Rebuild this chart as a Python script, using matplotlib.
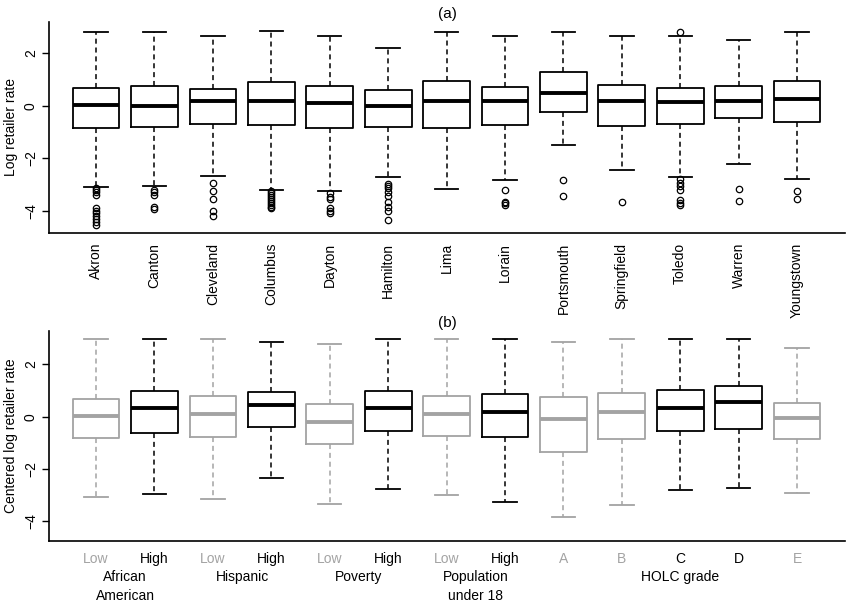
import matplotlib
matplotlib.use("Agg")
import matplotlib.pyplot as plt
from matplotlib.transforms import blended_transform_factory

plt.rcParams['font.family'] = ['Liberation Sans', 'DejaVu Sans']

# ---------------- Panel (a) data ----------------
cities = ["Akron", "Canton", "Cleveland", "Columbus", "Dayton", "Hamilton", "Lima",
          "Lorain", "Portsmouth", "Springfield", "Toledo", "Warren", "Youngstown"]
a_whislo = [-3.10, -3.05, -2.67, -3.20, -3.24, -2.72, -3.17, -2.82, -1.48, -2.44, -2.70, -2.20, -2.79]
a_q1 = [-0.83, -0.81, -0.68, -0.74, -0.86, -0.81, -0.84, -0.74, -0.24, -0.76, -0.70, -0.47, -0.62]
a_med = [0.05, 0.00, 0.20, 0.20, 0.12, 0.00, 0.18, 0.18, 0.51, 0.20, 0.15, 0.20, 0.27]
a_q3 = [0.69, 0.74, 0.66, 0.92, 0.74, 0.61, 0.94, 0.71, 1.30, 0.81, 0.69, 0.74, 0.93]
a_whishi = [2.81, 2.81, 2.65, 2.87, 2.65, 2.19, 2.81, 2.65, 2.81, 2.65, 2.65, 2.53, 2.81]
a_fliers = [
    [-3.15, -3.22, -3.30, -3.40, -3.90, -4.00, -4.10, -4.20, -4.30, -4.42, -4.55],
    [-3.20, -3.28, -3.40, -3.85, -3.95],
    [-2.95, -3.23, -3.56, -4.00, -4.20],
    [-3.25, -3.32, -3.40, -3.48, -3.55, -3.62, -3.70, -3.78, -3.85, -3.90],
    [-3.33, -3.46, -3.56, -3.91, -4.02, -4.10],
    [-2.99, -3.07, -3.14, -3.27, -3.43, -3.65, -3.87, -4.00, -4.37],
    [],
    [-3.22, -3.65, -3.72, -3.77],
    [-2.84, -3.43],
    [-3.66],
    [2.81, -2.79, -2.95, -3.05, -3.20, -3.60, -3.70, -3.79],
    [-3.18, -3.64],
    [-3.24, -3.55],
]

# ---------------- Panel (b) data ----------------
b_labels = ["Low", "High", "Low", "High", "Low", "High", "Low", "High", "A", "B", "C", "D", "E"]
b_highlight = [False, True, False, True, False, True, False, True, False, False, True, True, False]
b_whislo = [-3.09, -2.97, -3.17, -2.35, -3.35, -2.77, -3.00, -3.27, -3.84, -3.37, -2.80, -2.72, -2.91]
b_q1 = [-0.80, -0.61, -0.79, -0.38, -1.05, -0.54, -0.74, -0.79, -1.35, -0.84, -0.54, -0.46, -0.87]
b_med = [0.03, 0.32, 0.12, 0.44, -0.19, 0.35, 0.12, 0.17, -0.10, 0.18, 0.35, 0.55, -0.06]
b_q3 = [0.69, 0.98, 0.79, 0.96, 0.49, 0.98, 0.78, 0.86, 0.74, 0.90, 1.02, 1.19, 0.52]
b_whishi = [2.99, 2.99, 2.99, 2.84, 2.79, 2.99, 2.99, 2.99, 2.84, 2.99, 2.99, 2.99, 2.62]
groups = ["African\nAmerican", "Hispanic", "Poverty", "Population\nunder 18", "HOLC grade"]
group_pos = [1.5, 3.5, 5.5, 7.5, 11.0]

GRAY = "#a3a3a3"
W, H = 849, 604
fig = plt.figure(figsize=(W / 100, H / 100), dpi=100)

def frac(l, t, r, b):
    return [l / W, 1 - b / H, (r - l) / W, (b - t) / H]

ax1 = fig.add_axes(frac(49, 22, 845, 233))
ax2 = fig.add_axes(frac(49, 331, 845, 540.7))


def draw(ax, stats, colors):
    for i, (st, c) in enumerate(zip(stats, colors)):
        ax.bxp([st], positions=[i + 1], widths=0.8, capwidths=0.4, showfliers=True,
               boxprops=dict(color=c, linewidth=1.3),
               medianprops=dict(color=c, linewidth=2.8, solid_capstyle='butt'),
               whiskerprops=dict(color=c, linewidth=1.1, linestyle=(0, (3.3, 2.5))),
               capprops=dict(color=c, linewidth=1.3),
               flierprops=dict(marker='o', markerfacecolor='none', markeredgecolor=c,
                               markersize=4.6, markeredgewidth=0.9, linestyle='none'))


def style(ax, ylabel, ylim):
    ax.set_xlim(0.195, 13.82)
    ax.set_ylim(*ylim)
    ax.spines['top'].set_visible(False)
    ax.spines['right'].set_visible(False)
    ax.spines['left'].set_linewidth(1.2)
    ax.spines['bottom'].set_linewidth(1.2)
    ax.set_yticks([-4, -2, 0, 2])
    ax.set_yticklabels(["\u22124", "\u22122", "0", "2"], rotation=90, va='center')
    ax.tick_params(axis='y', length=5, width=1, labelsize=10, pad=3)
    ax.tick_params(axis='x', length=0, labelsize=10)
    ax.set_ylabel(ylabel, fontsize=10, labelpad=4)


stats_a = [dict(med=m, q1=q1, q3=q3, whislo=lo, whishi=hi, fliers=f)
           for m, q1, q3, lo, hi, f in zip(a_med, a_q1, a_q3, a_whislo, a_whishi, a_fliers)]
draw(ax1, stats_a, ["black"] * len(cities))
style(ax1, "Log retailer rate", (-4.85, 3.2))
ax1.set_xticks(range(1, len(cities) + 1))
ax1.set_xticklabels(cities, rotation=90, va='top', ha='center')
ax1.tick_params(axis='x', pad=7)
ax1.set_title("(a)", fontsize=11, pad=3)

stats_b = [dict(med=m, q1=q1, q3=q3, whislo=lo, whishi=hi, fliers=[])
           for m, q1, q3, lo, hi in zip(b_med, b_q1, b_q3, b_whislo, b_whishi)]
colors_b = ["black" if h else GRAY for h in b_highlight]
draw(ax2, stats_b, colors_b)
style(ax2, "Centered log retailer rate", (-4.75, 3.28))
ax2.set_xticks(range(1, len(b_labels) + 1))
ax2.set_xticklabels(b_labels)
ax2.tick_params(axis='x', pad=8)
for lab, c in zip(ax2.get_xticklabels(), colors_b):
    lab.set_color(c)
ax2.set_title("(b)", fontsize=11, pad=3)

tr = blended_transform_factory(ax2.transData, fig.transFigure)
for g, p in zip(groups, group_pos):
    fig.text(p, 1 - 570 / H, g, transform=tr, ha='center', va='top', fontsize=10,
             linespacing=1.45)

fig.savefig("out.png", dpi=100)
